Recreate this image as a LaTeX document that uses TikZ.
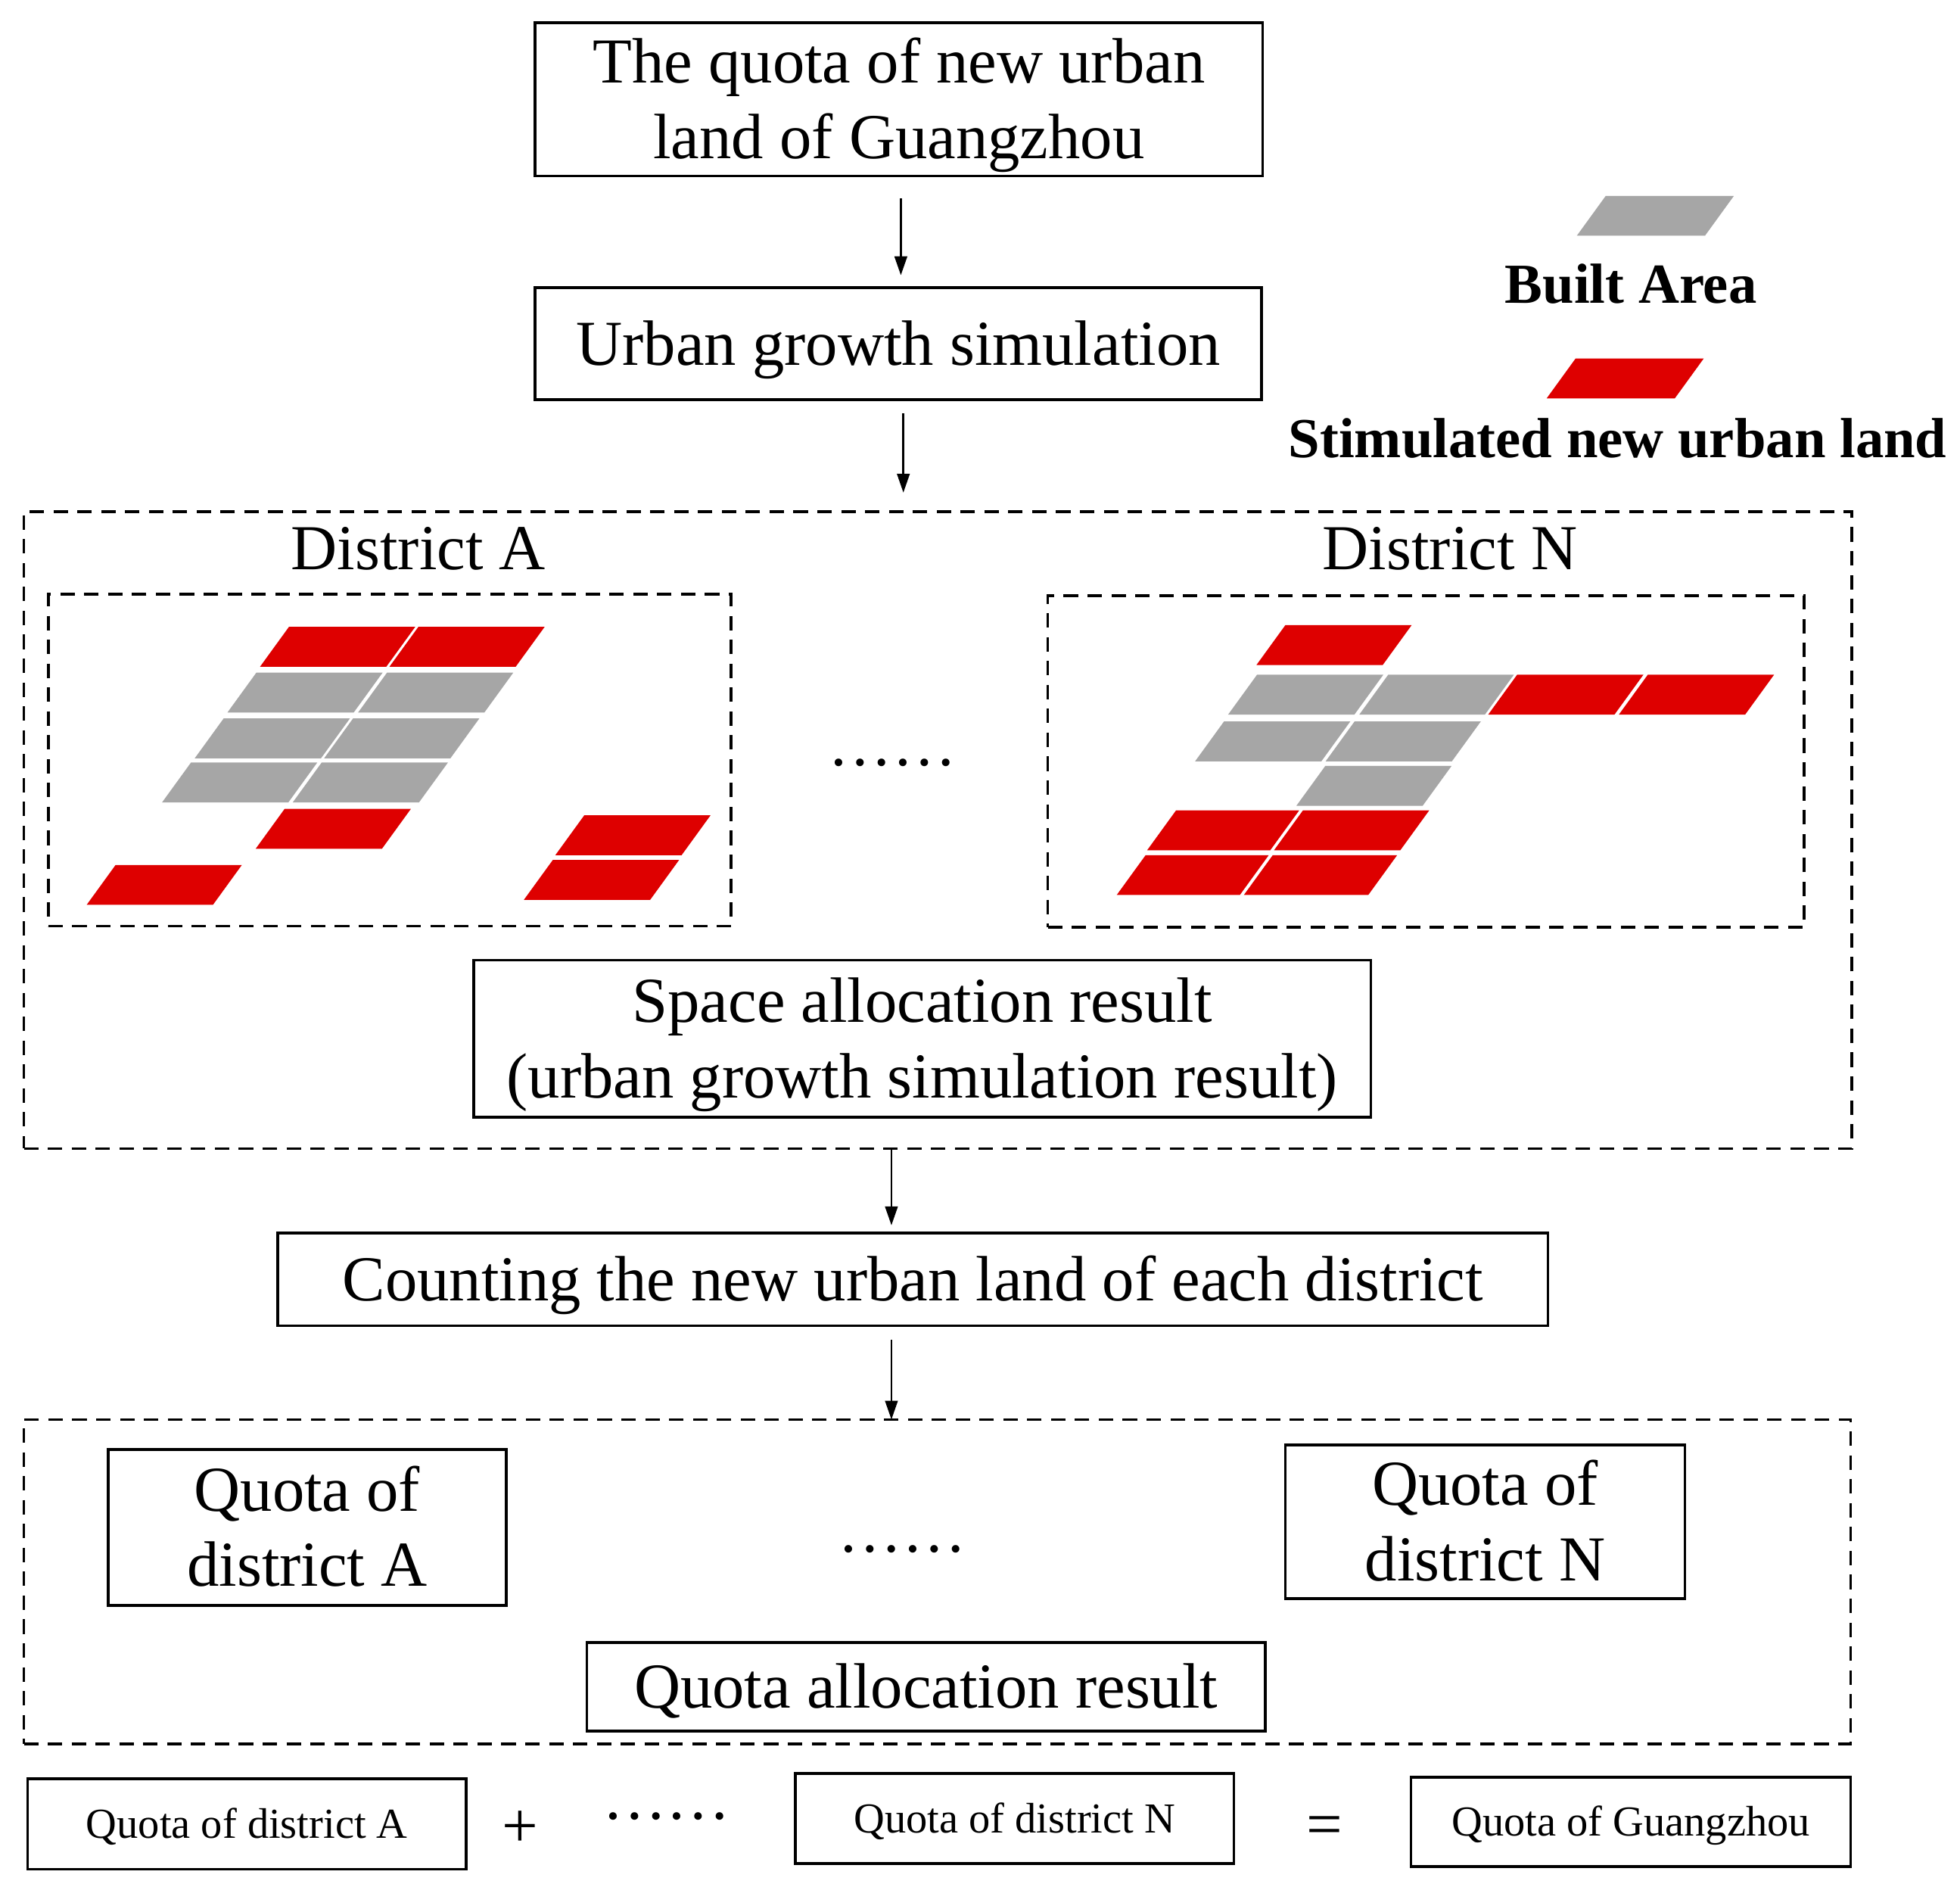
\documentclass[tikz,border=0pt]{standalone}
\usepackage{fontspec}
\setmainfont{Liberation Serif}
\usetikzlibrary{arrows.meta}
\definecolor{builtgray}{RGB}{166,166,166}
\definecolor{newred}{RGB}{222,0,0}
\newcommand{\landtile}[4][100.5]{\fill[#2] (#3,#4) -- ++(#1,0) -- ++(23,-31.7) -- ++(-#1,0) -- cycle;}
\tikzset{
  boxstyle/.style={draw=black, line width=2.2pt, inner sep=0pt, outer sep=0pt, align=center},
  bigtext/.style={font=\fontsize{51}{60}\selectfont},
  smalltext/.style={font=\fontsize{34}{40}\selectfont},
  legendtext/.style={font=\fontsize{45}{52}\selectfont\bfseries},
  oneline/.style={text height=33.8pt, text depth=0pt},
  twoline/.style={text height=93.8pt, text depth=0pt},
  smallline/.style={text height=22.5pt, text depth=0pt},
  dashframe/.style={draw=black, line width=2.2pt, dash pattern=on 11.5pt off 7.5pt, inner sep=0pt, outer sep=0pt},
  flowarrow/.style={draw=black, line width=1.5pt, -{Triangle[length=15pt,width=10pt]}},
  plain/.style={inner sep=0pt, outer sep=0pt},
}
\begin{document}
\begin{tikzpicture}[x=1pt, y=-1pt]
\fill[white] (0,0) rectangle (1560,1501);
\useasboundingbox (0,0) rectangle (1560,1501);

% top flow
\node[boxstyle, bigtext, twoline, minimum width=579pt, minimum height=122pt] (quota) at (715.5,79)
  {The quota of new urban\\land of Guangzhou};
\node[boxstyle, bigtext, oneline, minimum width=578pt, minimum height=89pt] (sim) at (715,273.5)
  {Urban growth simulation};

% legend
\landtile[102]{builtgray}{1255}{187.6}
\node[plain, legendtext, anchor=base] (builtlbl) at (1298,241) {Built Area};
\landtile[102]{newred}{1231}{317}
\node[plain, legendtext, anchor=base] (newlbl) at (1287.5,364) {Stimulated new urban land};

% space allocation frame
\node[dashframe, minimum width=1455pt, minimum height=507pt] (outerA) at (746.5,660.5) {};
\node[plain, bigtext, anchor=base] (distA) at (333,453.4) {District A};
\node[plain, bigtext, anchor=base] (distN) at (1154,453.4) {District N};
\node[dashframe, minimum width=543.5pt, minimum height=264pt] (panelA) at (310.25,605) {};
\node[dashframe, minimum width=602pt, minimum height=264pt] (panelN) at (1135,606) {};
\node[plain, bigtext, anchor=base] (dotsA) at (710.5,609) {……};

% district A cells
\landtile{newred}{207}{530.5}
\landtile{newred}{310}{530.5}
\landtile{builtgray}{181}{567}
\landtile{builtgray}{285}{567}
\landtile{builtgray}{155}{603.4}
\landtile{builtgray}{258}{603.4}
\landtile{builtgray}{129}{638.5}
\landtile{builtgray}{233}{638.5}
\landtile{newred}{203.5}{675.4}
\landtile{newred}{69}{720}
\landtile{newred}{442}{680.5}
\landtile{newred}{417}{716}

% district N cells
\landtile{newred}{1000}{529.2}
\landtile{builtgray}{977.5}{568.6}
\landtile[100]{builtgray}{1081.9}{568.6}
\landtile{newred}{1184.5}{568.6}
\landtile{newred}{1288.5}{568.6}
\landtile{builtgray}{951.2}{605.8}
\landtile{builtgray}{1055.1}{605.8}
\landtile{builtgray}{1031.8}{641.2}
\landtile[98]{newred}{913}{676.6}
\landtile{newred}{1014}{676.6}
\landtile[98]{newred}{888.8}{712.2}
\landtile[99]{newred}{990}{712.2}

\node[boxstyle, bigtext, twoline, minimum width=714pt, minimum height=125pt] (space) at (734,826.5)
  {Space allocation result\\(urban growth simulation result)};

% counting
\node[boxstyle, bigtext, oneline, minimum width=1011pt, minimum height=74pt] (count) at (726.5,1018)
  {Counting the new urban land of each district};

% quota allocation frame
\node[dashframe, minimum width=1454pt, minimum height=258pt] (outerB) at (746,1258.6) {};
\node[boxstyle, bigtext, twoline, minimum width=317pt, minimum height=124pt] (qa) at (244.5,1215.4)
  {Quota of\\district A};
\node[boxstyle, bigtext, twoline, minimum width=318pt, minimum height=122pt] (qn) at (1182,1211)
  {Quota of\\district N};
\node[plain, bigtext, anchor=base] (dotsB) at (718,1235) {……};
\node[boxstyle, bigtext, oneline, minimum width=540pt, minimum height=70.6pt] (qar) at (737,1342.2)
  {Quota allocation result};

% bottom equation
\node[boxstyle, smalltext, smallline, minimum width=349pt, minimum height=72pt] (sa) at (196.5,1451.5)
  {Quota of district A};
\node[plain, bigtext, anchor=base] (plus) at (414,1470) {+};
\node[plain, bigtext, anchor=base] (dotsC) at (530.5,1447.5) {……};
\node[boxstyle, smalltext, smallline, minimum width=349pt, minimum height=71.7pt] (sn) at (807.5,1447)
  {Quota of district N};
\node[plain, bigtext, anchor=base] (equal) at (1054,1469) {=};
\node[boxstyle, smalltext, smallline, minimum width=350pt, minimum height=71.3pt] (sg) at (1298,1449.7)
  {Quota of Guangzhou};

% arrows
\coordinate (ax1) at (717,0);
\coordinate (ax2) at (719,0);
\coordinate (ax3) at (709.5,0);
\draw[flowarrow, shorten <=18pt, shorten >=10pt] (quota.south -| ax1) -- (sim.north -| ax1);
\draw[flowarrow, shorten <=11pt, shorten >=15pt] (sim.south -| ax2) -- (outerA.north -| ax2);
\draw[flowarrow, shorten <=1pt, shorten >=6pt] (outerA.south -| ax3) -- (count.north -| ax3);
\draw[flowarrow, shorten <=11pt, shorten >=0pt] (count.south -| ax3) -- (outerB.north -| ax3);
\end{tikzpicture}
\end{document}
